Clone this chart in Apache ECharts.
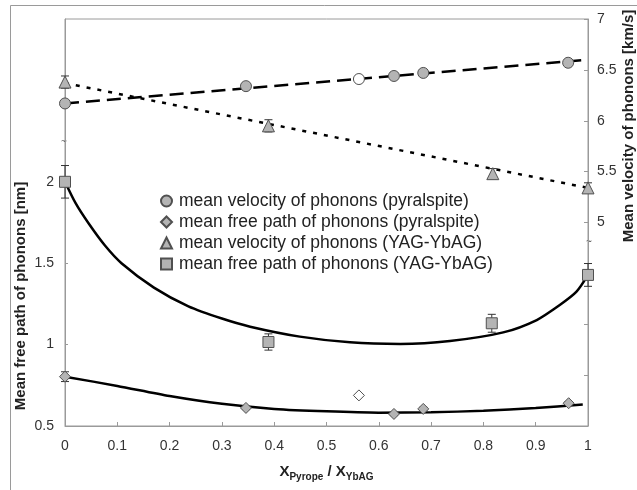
<!DOCTYPE html>
<html><head><meta charset="utf-8">
<script src="https://cdn.jsdelivr.net/npm/echarts@6/dist/echarts.min.js"></script>
<style>html,body{margin:0;padding:0;background:#fff}#c{width:637px;height:490px}</style>
</head><body><div id="c"></div>
<script>
// ---- data ----
const xTicks = [0,0.1,0.2,0.3,0.4,0.5,0.6,0.7,0.8,0.9,1];
const leftLabels = [0.5,1,1.5,2];
const rightLabels = [5,5.5,6,6.5,7];

// mean velocity of phonons (pyralspite) [km/s]
const velPyrX = [0, 0.346, 0.629, 0.685, 0.962];
const velPyrY = [6.17, 6.34, 6.44, 6.47, 6.57];
const velPyrErr = [0.02, 0.02, 0.03, 0.03, 0.03];
const velPyrOpenX = [0.562];
const velPyrOpenY = [6.41];
const velPyrFitX = [0, 1];
const velPyrFitY = [6.17, 6.60];

// mean free path of phonons (pyralspite) [nm]
const mfpPyrX = [0, 0.346, 0.629, 0.685, 0.963];
const mfpPyrY = [0.803, 0.611, 0.574, 0.605, 0.640];
const mfpPyrErr = [0.03, 0.01, 0.01, 0.01, 0.01];
const mfpPyrOpenX = [0.562];
const mfpPyrOpenY = [0.688];
const mfpPyrFitX = [0, 0.1, 0.2, 0.3, 0.4, 0.5, 0.6, 0.7, 0.8, 0.9, 0.99];
const mfpPyrFitY = [0.803, 0.746, 0.684, 0.636, 0.605, 0.590, 0.582, 0.584, 0.594, 0.611, 0.632];

// mean velocity of phonons (YAG-YbAG) [km/s]
const velYagX = [0, 0.389, 0.818, 1];
const velYagY = [6.38, 5.95, 5.48, 5.34];
const velYagErr = [0.06, 0.06, 0.05, 0.05];
const velYagFitX = [0, 1];
const velYagFitY = [6.37, 5.34];

// mean free path of phonons (YAG-YbAG) [nm]
const mfpYagX = [0, 0.389, 0.816, 1];
const mfpYagY = [2.0, 1.016, 1.131, 1.428];
const mfpYagErr = [0.1, 0.05, 0.055, 0.07];
const mfpYagFitX = [0, 0.02, 0.045, 0.076, 0.108, 0.17, 0.236, 0.3, 0.354, 0.449, 0.545, 0.641, 0.736, 0.838, 0.902, 0.946, 0.978, 1];
const mfpYagFitY = [2.0, 1.87, 1.745, 1.61, 1.5, 1.35, 1.235, 1.16, 1.11, 1.049, 1.014, 1.004, 1.022, 1.075, 1.151, 1.243, 1.325, 1.428];

const names = [
  'mean velocity of phonons (pyralspite)',
  'mean free path of phonons (pyralspite)',
  'mean velocity of phonons (YAG-YbAG)',
  'mean free path of phonons (YAG-YbAG)'
];

// ---- helpers ----
const zip = (xs, ys) => xs.map((x, i) => [x, ys[i]]);
const errData = (xs, ys, es) => xs.map((x, i) => [x, ys[i] - es[i], ys[i] + es[i]]);
const FONT = 'Liberation Sans, Arial, sans-serif';
const FILL = '#b4b4b4', EDGE = '#505050';

function errSeries(xs, ys, es, yIdx) {
  return {
    type: 'custom', yAxisIndex: yIdx, z: 3, silent: true,
    data: errData(xs, ys, es),
    renderItem(params, api) {
      const x = api.value(0);
      const a = api.coord([x, api.value(1)]);
      const b = api.coord([x, api.value(2)]);
      const st = { stroke: '#333', lineWidth: 1 };
      return { type: 'group', children: [
        { type: 'line', shape: { x1: a[0], y1: a[1], x2: b[0], y2: b[1] }, style: st },
        { type: 'line', shape: { x1: a[0] - 4, y1: a[1], x2: a[0] + 4, y2: a[1] }, style: st },
        { type: 'line', shape: { x1: b[0] - 4, y1: b[1], x2: b[0] + 4, y2: b[1] }, style: st }
      ]};
    }
  };
}
function fitSeries(xs, ys, yIdx, type, smooth) {
  return {
    type: 'line', yAxisIndex: yIdx, z: 2, silent: true, symbol: 'none',
    smooth: smooth, data: zip(xs, ys),
    lineStyle: { color: '#000', width: 2.5, type: type }
  };
}
function scatter(name, xs, ys, yIdx, symbol, size, fill) {
  return {
    name: name, type: 'scatter', yAxisIndex: yIdx, z: 5,
    symbol: symbol, symbolSize: size, data: zip(xs, ys),
    itemStyle: { color: fill, borderColor: EDGE, borderWidth: 1, opacity: 1 }
  };
}

const chart = echarts.init(document.getElementById('c'), null, { renderer: 'canvas' });
const option = {
  animation: false,
  backgroundColor: '#fff',
  textStyle: { fontFamily: FONT },
  grid: { left: 65, right: 49, top: 19, bottom: 64, show: true, borderColor: '#9a9a9a', borderWidth: 1 },
  legend: {
    data: names,
    orient: 'vertical', left: 155, top: 187,
    itemWidth: 11, itemHeight: 11, itemGap: 3,
    textStyle: { fontSize: 17.5, color: '#222', fontFamily: FONT, lineHeight: 18, padding: [0, 0, 0, 2] },
    selectedMode: false
  },
  xAxis: {
    type: 'value', min: 0, max: 1, interval: 0.1,
    axisLine: { lineStyle: { color: '#9a9a9a' } },
    axisTick: { inside: true, length: 4, lineStyle: { color: '#9a9a9a' } },
    splitLine: { show: false },
    axisLabel: { fontSize: 14, color: '#333', margin: 13, fontFamily: FONT,
      formatter: v => String(Math.round(v * 10) / 10) },
    name: '{b|X}{s|Pyrope}{b| / X}{s|YbAG}',
    nameLocation: 'middle', nameGap: 38,
    nameTextStyle: { rich: {
      b: { fontSize: 15, fontWeight: 'bold', color: '#222', fontFamily: FONT, verticalAlign: 'bottom' },
      s: { fontSize: 10, fontWeight: 'bold', color: '#222', fontFamily: FONT, verticalAlign: 'bottom', padding: [0, 0, -3, 0] }
    }}
  },
  yAxis: [
    {
      type: 'value', min: 0.5, max: 3, interval: 0.5, position: 'left',
      axisLine: { show: true, lineStyle: { color: '#9a9a9a' } },
      axisTick: { show: true, inside: true, length: 3, customValues: leftLabels, lineStyle: { color: '#9a9a9a' } },
      splitLine: { show: false },
      axisLabel: { fontSize: 14, color: '#333', margin: 11, fontFamily: FONT,
        formatter: v => leftLabels.some(l => Math.abs(l - v) < 1e-6) ? String(v) : '' }
    },
    {
      type: 'value', min: 3, max: 7, interval: 0.5, position: 'right',
      axisLine: { show: true, lineStyle: { color: '#9a9a9a' } },
      axisTick: { show: true, inside: true, length: 4, lineStyle: { color: '#9a9a9a' } },
      splitLine: { show: false },
      axisLabel: { fontSize: 14, color: '#333', margin: 9, fontFamily: FONT,
        formatter: v => rightLabels.some(l => Math.abs(l - v) < 1e-6) ? String(v) : '' }
    }
  ],
  graphic: [
    { type: 'rect', left: 8, top: 3, shape: { width: 640, height: 485 }, style: { fill: 'none', stroke: '#9a9a9a', lineWidth: 1 }, z: -1, silent: true },
    { type: 'text', x: 21, y: 296, rotation: Math.PI / 2, style: { text: 'Mean free path of phonons [nm]', fontSize: 15, fontWeight: 'bold', fill: '#222', fontFamily: FONT, align: 'center', verticalAlign: 'middle' } },
    { type: 'text', x: 629, y: 126, rotation: Math.PI / 2, style: { text: 'Mean velocity of phonons [km/s]', fontSize: 15, fontWeight: 'bold', fill: '#222', fontFamily: FONT, align: 'center', verticalAlign: 'middle' } },
    { type: 'text', x: 64, y: 142, style: { text: '~', fontSize: 10, fill: '#555', fontFamily: FONT, align: 'center', verticalAlign: 'middle' } },
    { type: 'text', x: 589, y: 242, style: { text: '~', fontSize: 10, fill: '#555', fontFamily: FONT, align: 'center', verticalAlign: 'middle' } }
  ],
  series: [
    fitSeries(velPyrFitX, velPyrFitY, 1, [14, 7], false),
    fitSeries(velYagFitX, velYagFitY, 1, [4, 7], false),
    fitSeries(mfpPyrFitX, mfpPyrFitY, 0, 'solid', 0.25),
    fitSeries(mfpYagFitX, mfpYagFitY, 0, 'solid', 0.25),
    errSeries(velPyrX, velPyrY, velPyrErr, 1),
    errSeries(velYagX, velYagY, velYagErr, 1),
    errSeries(mfpPyrX, mfpPyrY, mfpPyrErr, 0),
    errSeries(mfpYagX, mfpYagY, mfpYagErr, 0),
    scatter(names[0], velPyrX, velPyrY, 1, 'circle', 11, FILL),
    scatter(null, velPyrOpenX, velPyrOpenY, 1, 'circle', 11, '#fff'),
    scatter(names[1], mfpPyrX, mfpPyrY, 0, 'diamond', 11, FILL),
    scatter(null, mfpPyrOpenX, mfpPyrOpenY, 0, 'diamond', 11, '#fff'),
    scatter(names[2], velYagX, velYagY, 1, 'triangle', 12, FILL),
    scatter(names[3], mfpYagX, mfpYagY, 0, 'rect', 11, FILL)
  ]
};
chart.setOption(option);
</script>
</body></html>
